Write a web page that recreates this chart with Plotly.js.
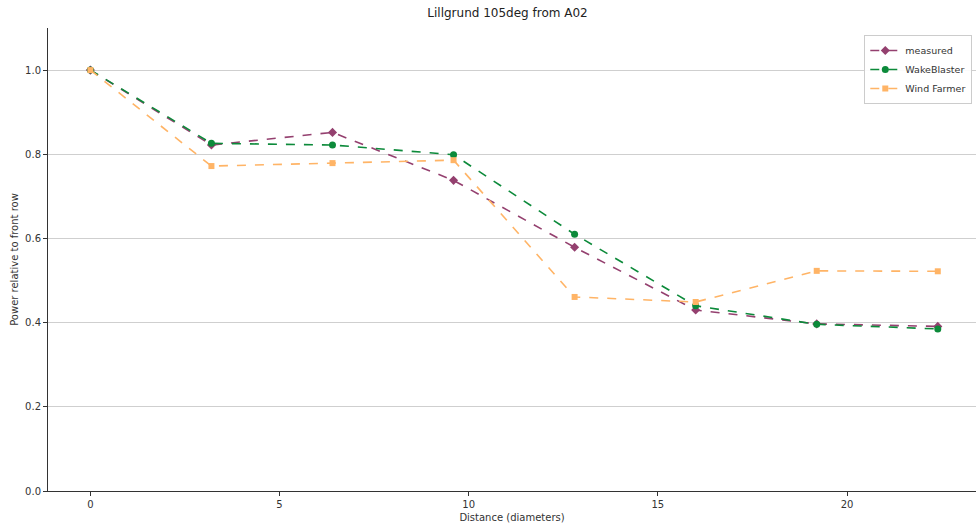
<!DOCTYPE html>
<html><head><meta charset="utf-8">
<script src="https://cdn.plot.ly/plotly-3.0.1.min.js"></script>
<style>html,body{margin:0;padding:0;background:#fff}#chart{width:976px;height:525px}</style>
</head><body><div id="chart"></div>
<script>
const distance = [0, 3.2, 6.4, 9.6, 12.8, 16.0, 19.2, 22.4];
const measured = [1.0, 0.822, 0.852, 0.738, 0.579, 0.430, 0.397, 0.391];
const wakeBlaster = [1.0, 0.826, 0.822, 0.799, 0.610, 0.440, 0.396, 0.385];
const windFarmer = [1.0, 0.772, 0.779, 0.786, 0.461, 0.449, 0.523, 0.522];
const xTicks = [0, 5, 10, 15, 20];
const yTicks = [0.0, 0.2, 0.4, 0.6, 0.8, 1.0];

const font = {family: 'DejaVu Sans', size: 10, color: '#333'};
const traces = [
  {x: distance, y: measured, name: 'measured', mode: 'lines+markers',
   line: {color: '#94406f', dash: 'dash', width: 1.6},
   marker: {symbol: 'diamond', size: 7, color: '#94406f'}},
  {x: distance, y: wakeBlaster, name: 'WakeBlaster', mode: 'lines+markers',
   line: {color: '#0c8a3a', dash: 'dash', width: 1.6},
   marker: {symbol: 'circle', size: 7, color: '#0c8a3a'}},
  {x: distance, y: windFarmer, name: 'Wind Farmer', mode: 'lines+markers',
   line: {color: '#ffb466', dash: 'dash', width: 1.6},
   marker: {symbol: 'square', size: 6, color: '#ffb466'}}
];
const layout = {
  width: 976, height: 525,
  margin: {l: 48, r: 0, t: 28, b: 34},
  paper_bgcolor: '#fff', plot_bgcolor: '#fff',
  font: font,
  title: {text: 'Lillgrund 105deg from A02', font: {family: 'DejaVu Sans', size: 12, color: '#222'}, x: 0.52, xanchor: 'center', y: 0.975, yanchor: 'middle'},
  showlegend: true,
  legend: {x: 0.996, xanchor: 'right', y: 0.985, yanchor: 'top', bgcolor: 'rgba(255,255,255,0.9)', bordercolor: '#ccc', borderwidth: 1, font: {family: 'DejaVu Sans', size: 9.5, color: '#333'}, tracegroupgap: 0, itemwidth: 30},
  xaxis: {range: [-1.12, 23.41], tickvals: xTicks, ticktext: xTicks.map(String), showgrid: false, zeroline: false,
    showline: true, linecolor: '#333', linewidth: 1, ticks: 'outside', ticklen: 4, tickcolor: '#333',
    title: {text: 'Distance (diameters)', font: {family: 'DejaVu Sans', size: 10, color: '#333'}, standoff: 4}},
  yaxis: {range: [0, 1.1], tickvals: yTicks, ticktext: yTicks.map(v => v.toFixed(1)), showgrid: true, gridcolor: '#cfcfcf', gridwidth: 1, zeroline: false,
    showline: true, linecolor: '#333', linewidth: 1, ticks: 'outside', ticklen: 4, tickcolor: '#333',
    title: {text: 'Power relative to front row', font: {family: 'DejaVu Sans', size: 10, color: '#333'}, standoff: 4}}
};
Plotly.newPlot('chart', traces, layout, {displayModeBar: false, staticPlot: true});
</script></body></html>
